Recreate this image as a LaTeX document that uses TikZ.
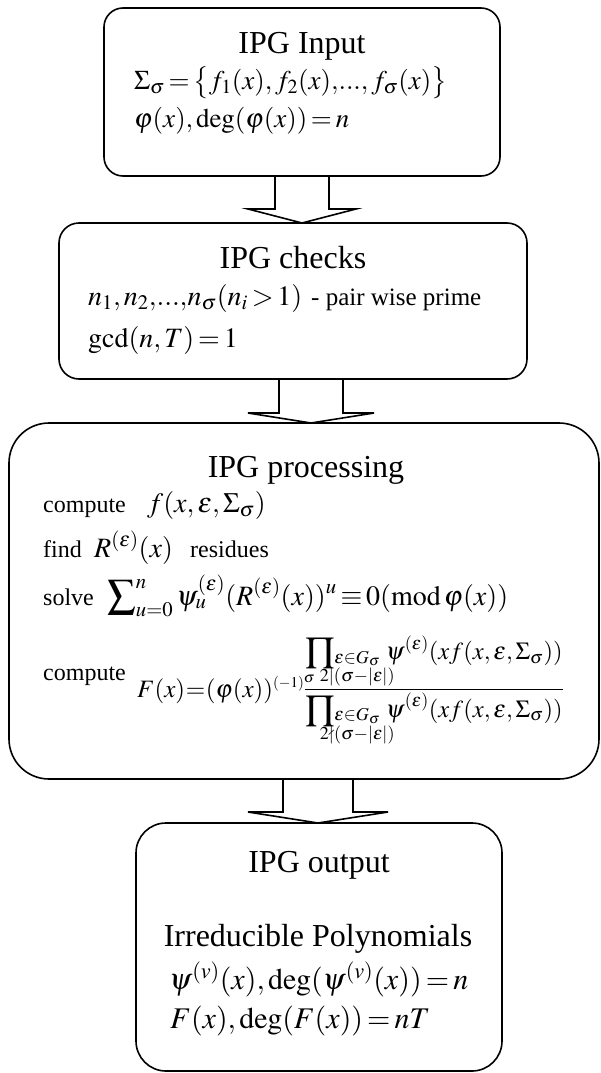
\documentclass[tikz,border=0pt]{standalone}
\usepackage{amsmath}
\usepackage{mathptmx}
\usepackage{amssymb}
\usepackage{mathtools}
\usepackage{fontspec}
\setmainfont{Liberation Serif}
\usetikzlibrary{calc}
\newcommand{\blockarr}[6]{%
  \draw[arr] ($(#3 |- #1.south)+(-#4,0)$) -- ($(#3 |- #2.north)+(-#4,-#6)$)
    -- ($(#3 |- #2.north)+(-#5,-#6)$) -- (#3 |- #2.north)
    -- ($(#3 |- #2.north)+(#5,-#6)$) -- ($(#3 |- #2.north)+(#4,-#6)$)
    -- ($(#3 |- #1.south)+(#4,0)$);}
\newcommand{\fsz}[1]{\fontsize{#1}{#1}\selectfont}
\tikzset{
  box/.style={draw, line width=1.6pt, inner sep=0pt, outer sep=0pt},
  arr/.style={draw, line width=1.6pt, line join=miter},
  ttl/.style={font=\fsz{32}, anchor=base, inner sep=0pt},
  txt/.style={font=\fsz{24}, anchor=base west, inner sep=0pt},
  mtha/.style={font=\fsz{27}, anchor=base west, inner sep=0pt},
  mthd/.style={font=\fsz{28}, anchor=base west, inner sep=0pt},
  mthb/.style={font=\fsz{28}, anchor=base west, inner sep=0pt},
  mthc/.style={font=\fsz{30}, anchor=base west, inner sep=0pt},
}
\begin{document}
\begin{tikzpicture}[x=1pt,y=-1pt]
\thickmuskip=2.5mu plus 1mu
\medmuskip=2mu plus 1mu
\useasboundingbox (0,0) rectangle (601,1073);
% boxes
\node[box, rounded corners=19pt, minimum width=396pt, minimum height=168pt] (b1) at (302,92) {};
\node[box, rounded corners=20pt, minimum width=468pt, minimum height=156pt] (b2) at (293,301) {};
\node[box, rounded corners=40pt, minimum width=590pt, minimum height=356pt] (b3) at (304,601) {};
\node[box, rounded corners=30pt, minimum width=366pt, minimum height=248pt] (b4) at (319,947) {};
% arrow centre lines
\coordinate (c1) at (302,0);
\coordinate (c2) at (311,0);
\coordinate (c3) at (318,0);
\blockarr{b1}{b2}{c1}{27}{54}{14}
\blockarr{b2}{b3}{c2}{32}{63}{10}
\blockarr{b3}{b4}{c3}{35}{70}{11}
% box 1
\node[ttl] (t1) at (302,53) {IPG Input};
\node[mtha] (m11) at (134,89) {$\Sigma_\sigma=\bigl\{f_1(x), f_2(x){,}...{,}\,f_\sigma(x)\bigr\}$};
\node[mtha] (m12) at (134,127) {$\varphi(x),\deg(\varphi(x))=n$};
% box 2
\node[ttl] (t2) at (293,268) {IPG checks};
\node[mthd] (m21) at (88,305) {$n_1,n_2{,}...{,}n_\sigma(n_i>1)$};
\node[txt, font=\fsz{25}] (p21) at (311,305) {- pair wise prime};
\node[mthd] (m22) at (88,347) {$\gcd(n,T)=1$};
% box 3
\node[ttl] (t3) at (306,477) {IPG processing};
\node[txt] (w31) at (43,512) {compute};
\node[mthb] (m31) at (147,512) {$f(x,\varepsilon,\Sigma_\sigma)$};
\node[txt] (w32) at (43,557) {find};
\node[mthb] (m32) at (94,557) {$R^{(\varepsilon)}(x)$};
\node[txt] (w32b) at (190,557) {residues};
\node[txt] (w33) at (43,605) {solve};
\node[mthb] (m33) at (107,605) {$\displaystyle\sum\nolimits_{u=0}^{n}\psi_u^{(\varepsilon)}(R^{(\varepsilon)}(x))^u\equiv0(\mathrm{mod}\,\varphi(x))$};
\node[txt] (w34) at (43,680) {compute};
\node[anchor=base west, inner sep=0pt, font=\fsz{25}] (m34a) at (137,697) {$F(x)\!=\!(\varphi(x))^{\scriptscriptstyle(-1)^{\sigma}}$};
\node[anchor=base west, inner sep=0pt, font=\fsz{24.5}] (m34b) at (304,696) {$\dfrac{\displaystyle\prod\nolimits_{\substack{\varepsilon\in G_\sigma\\ \mathclap{2|(\sigma-|\varepsilon|)}}}\,\psi^{(\varepsilon)}(xf(x{,}\,\varepsilon{,}\,\Sigma_\sigma))}
        {\displaystyle\prod\nolimits_{\substack{\varepsilon\in G_\sigma\\ \mathclap{2\nmid(\sigma-|\varepsilon|)}}}\,\psi^{(\varepsilon)}(xf(x{,}\,\varepsilon{,}\,\Sigma_\sigma))}$};
% box 4
\node[ttl] (t4) at (319,872) {IPG output};
\node[ttl] (t4b) at (318,946) {Irreducible Polynomials};
\node[mthc] (m41) at (169,989) {$\psi^{(v)}(x),\deg(\psi^{(v)}(x))=n$};
\node[mthc] (m42) at (170,1028) {$F(x),\deg(F(x))=nT$};
\end{tikzpicture}
\end{document}
